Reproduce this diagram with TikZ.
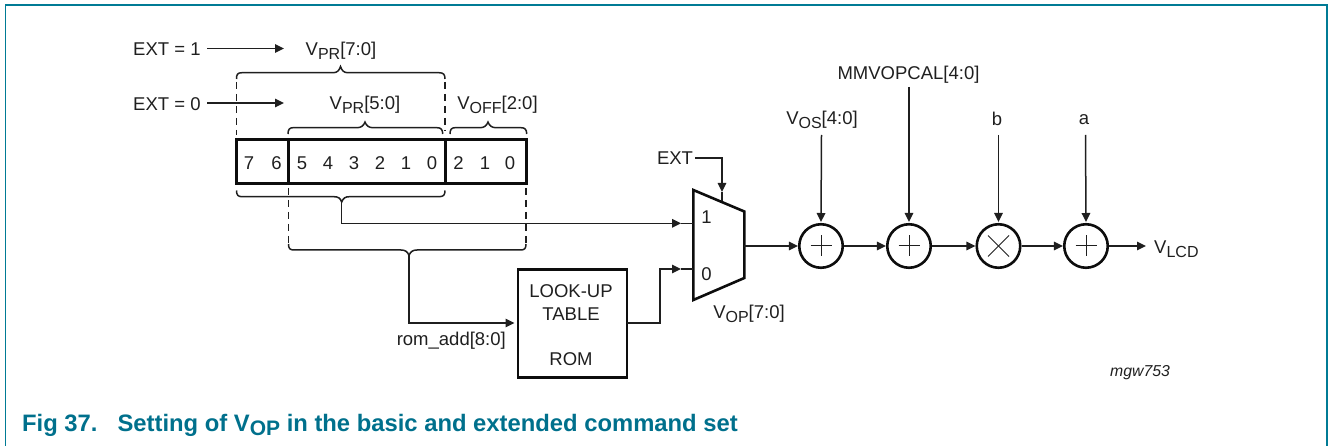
\documentclass[tikz,border=0pt]{standalone}
\usepackage{fontspec}
\setmainfont{Liberation Sans}
\usetikzlibrary{arrows.meta,calc}
\definecolor{teal1}{HTML}{00708C}
\definecolor{teal2}{HTML}{007B95}
\tikzset{
  x=1pt,y=-1pt,
  lbl/.style={inner sep=0pt,font=\fontsize{18.5}{20}\selectfont,text=black!88},
  wire/.style={line width=1.5pt,draw=black!88},
  arr/.style={wire,-{Triangle[length=9pt,width=8.5pt]}},
  thick box/.style={draw=black!95,line width=3pt},
  rom box/.style={draw=black!95,line width=2.6pt},
  dash line/.style={line width=1.4pt,draw=black!88,dash pattern=on 7pt off 5pt},
  sumc/.style={circle,draw=black!95,line width=2.6pt,minimum size=43.5pt,inner sep=0pt},
  sign/.style={line width=1pt,draw=black!88},
  frame/.style={draw=teal2,line width=1.6pt},
}
\newcommand{\Sb}[2][16]{\raisebox{-4pt}{\fontsize{#1}{#1}\selectfont #2}}
\begin{document}
\begin{tikzpicture}
\useasboundingbox (0,0) rectangle (1328,446);
\draw[frame] (5.3,446) -- (5.3,4.8) -- (1326.8,4.8) -- (1326.8,446);
% labels top
\node[lbl,anchor=west] (e1) at (133,48.7) {EXT = 1};
\node[lbl,anchor=west] (e0) at (133,103.7) {EXT = 0};
\node[lbl] (vpr7) at (341,50.5) {V\Sb{PR}[7:0]};
\node[lbl] (vpr5) at (365,105) {V\Sb{PR}[5:0]};
\node[lbl] (voff) at (497.5,105) {V\Sb{OFF}[2:0]};
\coordinate (a1) at (284,48.5); \coordinate (a0) at (284,103);
\coordinate (a1s) at (207,48.5); \coordinate (a0s) at (207,103);
\draw[arr] (a1s) -- (a1);
\draw[arr] (a0s) -- (a0);
% register
\draw[thick box] (236,140) rectangle (526.5,184);
\draw[thick box] (288.3,140) -- (288.3,184);
\draw[thick box] (445,140) -- (445,184);
\foreach \t/\x/\i in {7/249/a,6/276.5/b,5/302/c,4/328/d,3/354/e,2/380/f,1/406/g,0/432/h,2/458.5/i,1/485/j,0/510/k}
  \node[lbl] (bit\i) at (\x,163) {\t};
% brace top
\draw[wire] (236.5,79) .. controls (236.5,74.5) and (237.5,72.7) .. (242,72.7) -- (333,72.7) .. controls (337,72.7) and (339,71) .. (340.5,66.5) .. controls (342,71) and (344,72.7) .. (348,72.7) -- (439,72.7) .. controls (443.5,72.7) and (445,74.5) .. (445,79);
\draw[dash line] (236.5,82) -- (236.5,135);
\draw[dash line] (445,82) -- (445,131);
\draw[wire] (288,134) .. controls (288,129.5) and (289.5,127.7) .. (293,127.7) -- (357,127.7) .. controls (361,127.7) and (363.5,126) .. (365,122) .. controls (366.5,126) and (369,127.7) .. (373,127.7) -- (437,127.7) .. controls (441,127.7) and (442.7,129.5) .. (442.7,134);
\draw[wire] (450,134) .. controls (450,129.5) and (451.5,127.7) .. (455,127.7) -- (480,127.7) .. controls (484,127.7) and (486.5,126) .. (488,122) .. controls (489.5,126) and (492,127.7) .. (496,127.7) -- (521,127.7) .. controls (525,127.7) and (526.7,129.5) .. (526.7,134);
% brace below 1
\coordinate (b1) at (341.7,201);
\coordinate (b2) at (409,255);
\draw[wire] (236.5,190.5) .. controls (236.5,195) and (238,196.7) .. (242,196.7) -- (334,196.7) .. controls (338,196.7) and (340.2,198) .. (341.7,202) .. controls (343.2,198) and (345.4,196.7) .. (349.4,196.7) -- (439,196.7) .. controls (443.5,196.7) and (445,195) .. (445,190.5);
\draw[dash line] (288.5,188) -- (288.5,243);
\draw[dash line] (526,188) -- (526,243);
\draw[wire] (288.5,244) .. controls (288.5,248.5) and (290,250) .. (294,250) -- (401,250) .. controls (405,250) and (407.5,251.5) .. (409,255.5) .. controls (410.5,251.5) and (413,250) .. (417,250) -- (520.5,250) .. controls (524.5,250) and (526,248.5) .. (526,244);
% ROM
\node[rom box,draw,minimum width=109pt,minimum height=108pt,inner sep=0pt,anchor=north west] (rom) at (516.5,268.3) {};
\node[lbl] (t1) at (571,290.7) {LOOK-UP};
\node[lbl] (t2) at (571,313.7) {TABLE};
\node[lbl] (t3) at (571,358.7) {ROM};
\node[lbl,anchor=east] (romadd) at (506,340.5) {rom\_add[8:0]};
% MUX
\draw[rom box,miter limit=4] (693.3,190) -- (744.3,211.5) -- (744.3,278) -- (693.3,300) -- cycle;
\coordinate (m1) at (693,223.3); \coordinate (m0) at (693,269);
\coordinate (p1) at (681,223.3); \coordinate (p0) at (681,269);
\coordinate (mo) at (744.3,246); \coordinate (ms) at (722,201);
\coordinate (ps) at (722,192);
\node[lbl] (l1) at (706.5,217.5) {1};
\node[lbl] (l0) at (706.5,273.7) {0};
\node[lbl] (ext) at (675,157.7) {EXT};
\node[lbl] (vop) at (749,314) {V\Sb{OP}[7:0]};
\coordinate (ex) at (695,158);
\draw[arr] (ex) -| (ps);
\draw[wire] (ps) -- (ms);
\draw[arr] (b1) |- (p1);
\draw[wire] (p1) -- (m1);
\coordinate (rin) at (514.5,323);
\draw[arr] (b2) |- (rin);
\coordinate (rout) at (627,323);
\draw[arr] (rout) -- ++(33,0) |- (p0);
\draw[wire] (p0) -- (m0);
% sums
\node[sumc] (s1) at (821,246) {};
\node[sumc] (s2) at (909,246) {};
\node[sumc] (s3) at (998.5,246) {};
\node[sumc] (s4) at (1086,246) {};
\foreach \n in {s1,s2,s4}{
  \draw[sign] ($(\n)+(-10.5,0)$) -- ($(\n)+(10.5,0)$);
  \draw[sign] ($(\n)+(0,-10.5)$) -- ($(\n)+(0,10.5)$);
}
\draw[sign] ($(s3)+(-10.5,-10.5)$) -- ($(s3)+(10.5,10.5)$);
\draw[sign] ($(s3)+(-10.5,10.5)$) -- ($(s3)+(10.5,-10.5)$);
\node[lbl] (vos) at (822,120) {V\Sb{OS}[4:0]};
\node[lbl] (mm) at (908.5,75) {MMVOPCAL[4:0]};
\node[lbl] (nb) at (997,119) {b};
\node[lbl] (na) at (1084,119.5) {a};
\node[lbl,anchor=west] (vlcd) at (1154,249) {V\Sb{LCD}};
\coordinate (v1) at (821.5,135); \coordinate (v2) at (909,87);
\coordinate (v3) at (998.5,135); \coordinate (v4) at (1085.5,135);
\coordinate (vend) at (1146,246);
\draw[arr] (v1) -- (s1 |- 0,222);
\draw[arr] (v2) -- (s2 |- 0,222);
\draw[arr] (v3) -- (s3 |- 0,222);
\draw[arr] (v4) -- (s4 |- 0,222);
\draw[arr] (mo) -- (s1);
\draw[arr] (s1) -- (s2);
\draw[arr] (s2) -- (s3);
\draw[arr] (s3) -- (s4);
\draw[arr] (s4) -- (vend);
\node[lbl,font=\itshape\fontsize{15.8}{18}\selectfont] (mgw) at (1140,373) {mgw753};
\node[anchor=west,inner sep=0pt,text=teal1,font=\bfseries\fontsize{23.8}{26}\selectfont] (cap) at (22,425.5) {Fig 37.\hspace{20pt}Setting of V\Sb[21]{OP} in the basic and extended command set};
\end{tikzpicture}
\end{document}
